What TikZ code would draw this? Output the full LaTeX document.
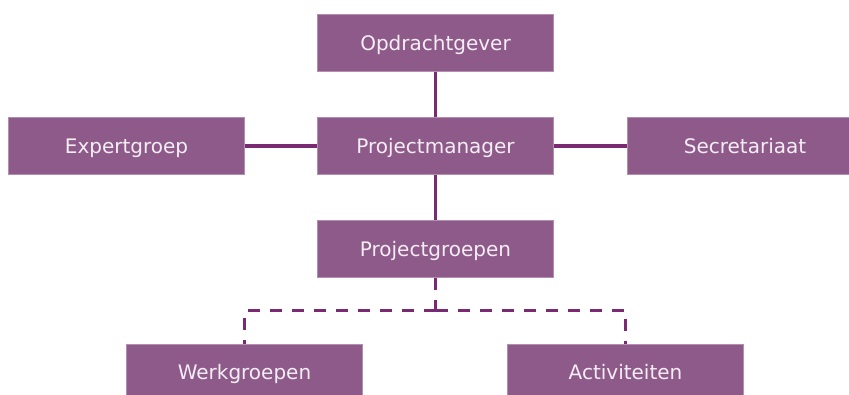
\documentclass[tikz,border=0pt]{standalone}
\usepackage{fontspec}
\setmainfont{DejaVu Sans}
\definecolor{boxfill}{HTML}{8E5A8A}
\definecolor{boxedge}{HTML}{B48EB2}
\definecolor{linecol}{HTML}{7A2A72}
\definecolor{txt}{HTML}{F4EEF4}
\begin{document}
\begin{tikzpicture}[x=1pt,y=-1pt,
  orgbox/.style={rectangle,fill=boxfill,draw=boxedge,line width=0.6pt,minimum width=236pt,minimum height=56.5pt,inner sep=0pt,text=txt,text height=14.6pt,text depth=0pt,font=\fontsize{20}{24}\selectfont},
  conn/.style={draw=linecol,line width=3.5pt},
  dconn/.style={draw=linecol,line width=3.5pt,dash pattern=on 12pt off 10pt}]
\useasboundingbox (0,0) rectangle (849,394);
\node[orgbox] (og) at (435.5,43) {Opdrachtgever};
\node[orgbox] (pm) at (435.5,146) {Projectmanager};
\node[orgbox] (eg) at (126.5,146) {Expertgroep};
\node[orgbox] (se) at (745,146) {Secretariaat};
\node[orgbox] (pg) at (435.5,249) {Projectgroepen};
\node[orgbox] (wg) at (244.5,372.5) {Werkgroepen};
\node[orgbox] (ac) at (625.5,372.5) {Activiteiten};
\coordinate (mid) at (435.5,310.7);
\draw[conn] (og.south) -- (pm.north);
\draw[conn] (pm.south) -- (pg.north);
\draw[conn] (eg.east) -- (pm.west);
\draw[conn] (pm.east) -- (se.west);
\draw[dconn] (pg.south) -- (mid);
\draw[dconn] (mid) -| (wg.north);
\draw[dconn] (mid) -| (ac.north);
\end{tikzpicture}
\end{document}
